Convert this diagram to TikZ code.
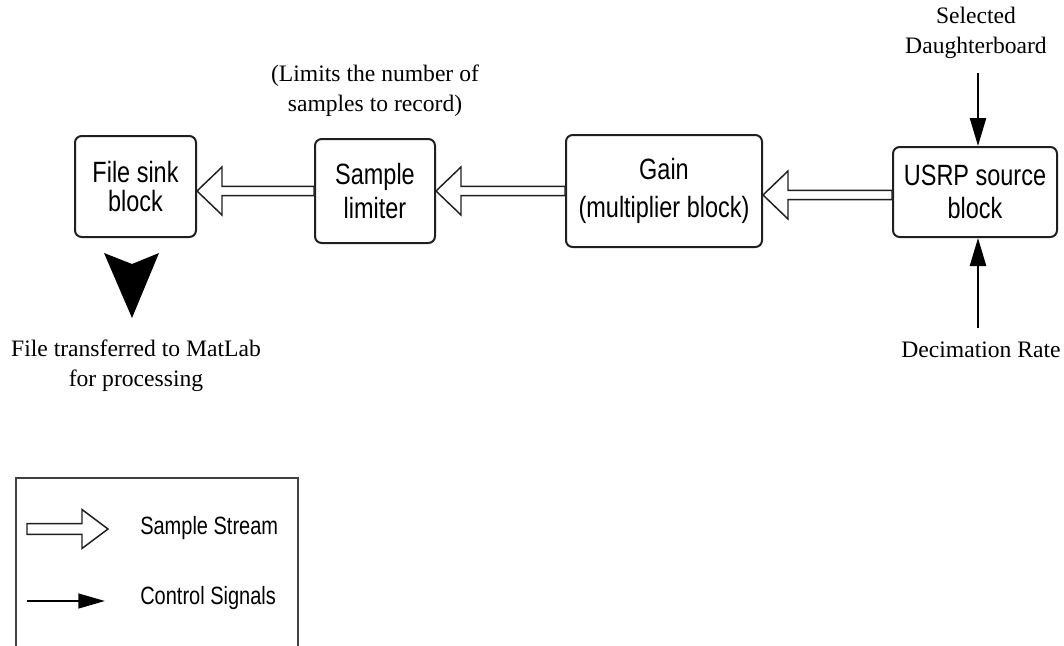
\documentclass[tikz,border=0pt]{standalone}
\usepackage{fontspec}
\setmainfont{Liberation Serif}
\newfontfamily\boxfont[FakeStretch=0.8]{Liberation Sans}
\usetikzlibrary{arrows.meta,calc}

\tikzset{
  block/.style={draw=black!88, line width=1.5pt, rounded corners=5pt, inner sep=0pt,
    align=center, font=\boxfont\fontsize{22}{#1}\selectfont},
  block/.default=24pt,
  note/.style={align=center, inner sep=0pt, font=\fontsize{17.7}{22.5}\selectfont},
  legtext/.style={inner sep=0pt, font=\boxfont\fontsize{18.75}{22}\selectfont},
  stream/.style={draw=black!88, line width=1.1pt, fill=white, line join=miter},
  control/.style={line width=1.8pt, -{Triangle[length=21pt,width=12pt]}},
}

% hollow "sample stream" arrow from the west side of #2 to the east side of #3
\newcommand\streamarrow[3][0]{%
  \path[stream] let \p1=($(#2.west)+(0,#1)$), \p2=(#3.east) in
    (\x1,\y1+3.4pt) -- (\x2+18.75pt,\y1+3.4pt) -- (\x2+18.75pt,\y1+18pt)
    -- (\x2,\y1) -- (\x2+18.75pt,\y1-18pt) -- (\x2+18.75pt,\y1-3.4pt)
    -- (\x1,\y1-3.4pt) -- cycle;}

\begin{document}
\begin{tikzpicture}[x=0.75pt,y=-0.75pt]
\useasboundingbox (0,0) rectangle (1064,646);

% processing chain
\node[block=21.75pt, minimum width=90.75pt, minimum height=75.75pt] (sink) at (135.5,186.5) {File sink\\block};
\node[block=25.5pt, minimum width=90pt, minimum height=78pt] (limiter) at (375,191) {Sample\\limiter};
\node[block=28.5pt, minimum width=147pt, minimum height=84pt] (gain) at (664,191) {Gain\\(multiplier block)};
\node[block=24.75pt, minimum width=123pt, minimum height=67.5pt] (usrp) at (975,192) {USRP source\\block};

\streamarrow[3]{usrp}{gain}
\streamarrow{gain}{limiter}
\streamarrow{limiter}{sink}

% control inputs of the USRP source
\node[note] (dboard) at (976,33) {Selected\\Daughterboard};
\node[note, anchor=base] (decim) at (981,357) {Decimation Rate};
\coordinate (dtop) at (978,73);
\coordinate (dbot) at (978,328);
\draw[control] (dtop) -- (dtop |- usrp.north);
\draw[control] (dbot) -- (dbot |- usrp.south);

% notes
\node[note] (limnote) at (375,91) {(Limits the number of\\samples to record)};
\node[note] (filenote) at (136,366) {File transferred to MatLab\\for processing};

% output marker below the file sink
\fill (104,253) -- (132,264) -- (159,253) -- (132,318) -- cycle;

% legend
\draw[black!75, line width=0.8pt] (16,646) -- (16,478) -- (298,478) -- (298,646);
\coordinate (ls) at (27,529);
\coordinate (le) at (108,529);
\path[stream] let \p1=(ls), \p2=(le) in
  (\x1,\y1+4.1pt) -- (\x2-19.5pt,\y1+4.1pt) -- (\x2-19.5pt,\y1+14.6pt)
  -- (\x2,\y1) -- (\x2-19.5pt,\y1-14.6pt) -- (\x2-19.5pt,\y1-4.1pt)
  -- (\x1,\y1-4.1pt) -- cycle;
\node[legtext, anchor=base west] (lstream) at (140,534) {Sample Stream};
\coordinate (cs) at (27,601);
\coordinate (ce) at (105,601);
\draw[line width=1.8pt, -{Triangle[length=20pt,width=11pt]}] (cs) -- (ce);
\node[legtext, anchor=base west] (lcontrol) at (140,604) {Control Signals};
\end{tikzpicture}
\end{document}
